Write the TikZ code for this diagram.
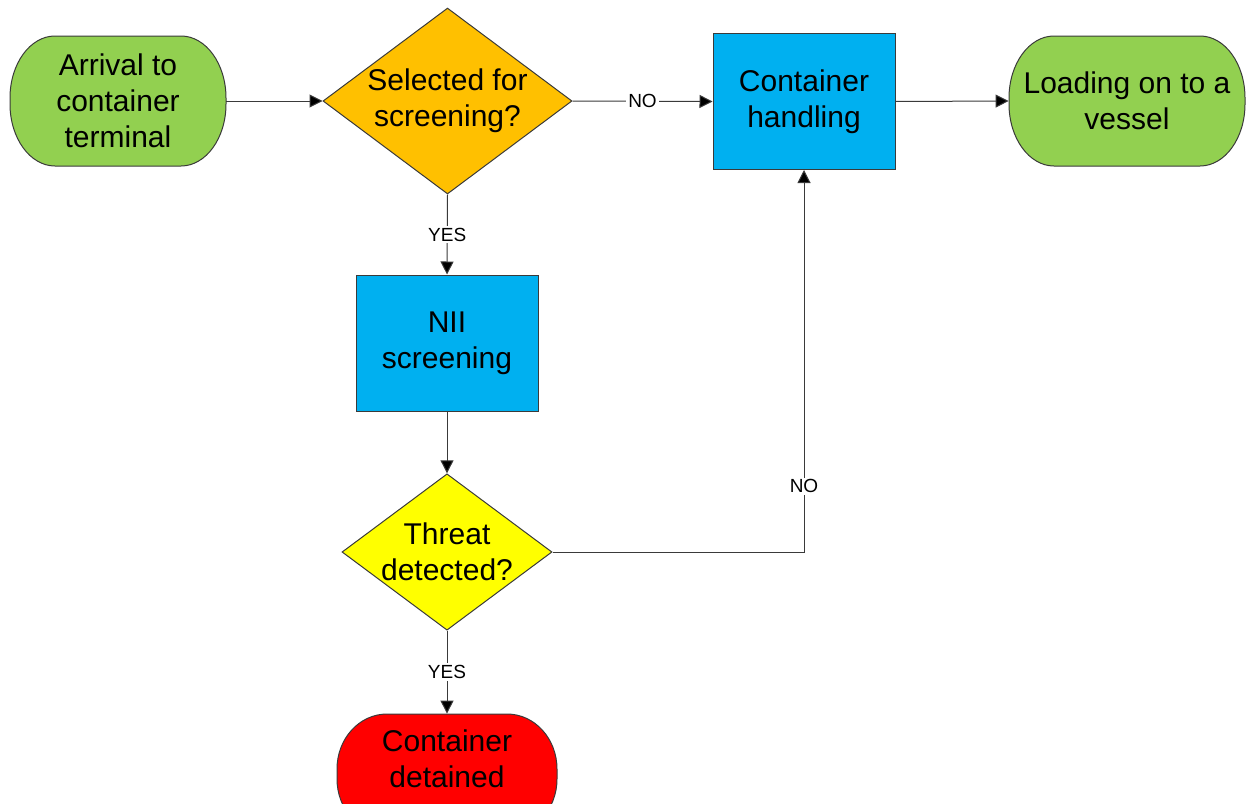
\documentclass[tikz,border=0pt]{standalone}
\usepackage{fontspec}
\setmainfont{Liberation Sans}
\usetikzlibrary{shapes.geometric,arrows.meta}
\definecolor{termgreen}{HTML}{92D050}
\definecolor{decorange}{HTML}{FFC000}
\definecolor{procblue}{HTML}{00B0F0}
\definecolor{decyellow}{HTML}{FFFF00}
\definecolor{stopred}{HTML}{FF0000}
\definecolor{linegray}{HTML}{3A3A3A}
% capsule outline with elliptical ends: x0, y0, x1, y1, x radius, y radius, fill
\newcommand\capsule[7]{%
  \draw[linegray, line width=0.5pt, fill=#7]
    ({#1+#5},#2) -- ({#3-#5},#2)
    .. controls +({0.5523*#5},0) and +(0,{-0.5523*#6}) .. (#3,{#2+#6})
    -- (#3,{#4-#6})
    .. controls +(0,{0.5523*#6}) and +({0.5523*#5},0) .. ({#3-#5},#4)
    -- ({#1+#5},#4)
    .. controls +({-0.5523*#5},0) and +(0,{0.5523*#6}) .. (#1,{#4-#6})
    -- (#1,{#2+#6})
    .. controls +(0,{-0.5523*#6}) and +({-0.5523*#5},0) .. ({#1+#5},#2) -- cycle;}
\begin{document}
\begin{tikzpicture}[x=0.5pt,y=-0.5pt,
  label text/.style={font=\fontsize{15pt}{18pt}\selectfont, align=center, inner sep=0pt},
  box/.style={label text, draw=linegray, line width=0.5pt},
  terminal/.style={label text, minimum height=65pt},
  process/.style={box, fill=procblue, minimum width=91pt, minimum height=68pt},
  decision/.style={box, diamond, aspect=1.34},
  flow/.style={draw=linegray, line width=0.5pt, -{Triangle[length=6.5pt,width=6.5pt,fill=black]}},
  tag/.style={font=\fontsize{9.5pt}{11pt}\selectfont, fill=white, inner sep=1pt}]
\useasboundingbox (0,0) rectangle (1247,803);

% terminal outlines
\capsule{10}{36}{226}{166}{45}{62}{termgreen}
\capsule{1009}{36}{1245}{166}{45}{62}{termgreen}
\capsule{337}{714}{557}{834}{50}{55}{stopred}

% nodes of the top row
\node[terminal, minimum width=108pt] (arrival) at (118,101) {Arrival to\\container\\terminal};
\node[decision, fill=decorange, minimum width=124.5pt, minimum height=93pt] (select) at (447.5,101) {Selected for\\screening?};
\node[process] (handling) at (804,101.5) {Container\\handling};
\node[terminal, minimum width=118pt] (loading) at (1127,101) {Loading on to a\\vessel};

% screening branch
\node[process] (nii) at (447,343) {NII\\screening};
\node[decision, fill=decyellow, minimum width=105pt, minimum height=78pt] (threat) at (447,552) {Threat\\detected?};
\node[terminal, minimum width=110pt, minimum height=45pt] (detained) at (447,759) {Container\\detained};

% connectors
\draw[flow] (arrival.east) -- (select.west);
\draw[flow] (select.east) -- node[tag]{NO} (handling.west);
\draw[flow] (handling.east) -- (loading.west);
\draw[flow] (select.south) -- node[tag]{YES} (nii.north);
\draw[flow] (nii.south) -- (threat.north);
\draw[flow] (threat.east) -| node[tag, pos=0.586]{NO} (handling.south);
\draw[flow] (threat.south) -- node[tag]{YES} (detained.north);
\end{tikzpicture}
\end{document}
